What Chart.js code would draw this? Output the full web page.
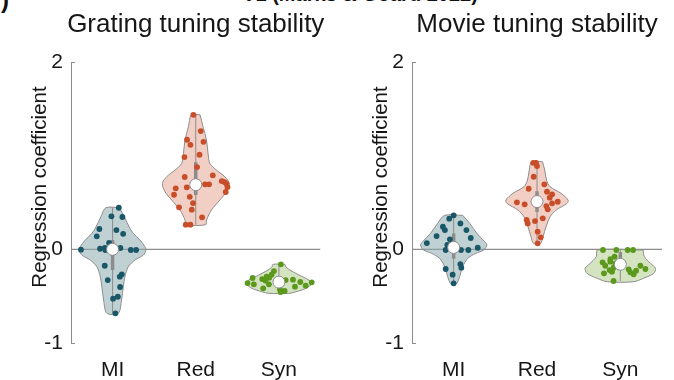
<!DOCTYPE html>
<html>
<head>
<meta charset="utf-8">
<script src="https://cdn.jsdelivr.net/npm/chart.js@4.4.0/dist/chart.umd.min.js"></script>
<style>
html,body{margin:0;padding:0;background:#fff;width:674px;height:380px;overflow:hidden;}
#wrap{position:relative;width:674px;height:380px;font-family:"Liberation Sans",Arial,Helvetica,sans-serif;}
.panel{position:absolute;top:0;width:337px;height:380px;}
#p1{left:0;} #p2{left:337px;}
#figTitle{position:absolute;left:0;top:-17px;width:720px;text-align:center;font-weight:bold;font-size:20px;line-height:23px;color:#111;white-space:nowrap;}
#panelTag{position:absolute;left:1px;top:-14px;font-weight:bold;font-size:24px;color:#111;}
</style>
</head>
<body>
<div id="wrap">
  <div id="figTitle">V1 (Marks &amp; Goard 2022)</div>
  <div id="panelTag">)</div>
  <div class="panel" id="p1"><canvas id="c1" width="337" height="380"></canvas></div>
  <div class="panel" id="p2"><canvas id="c2" width="337" height="380"></canvas></div>
</div>
<script>
// ---------------- DATA ----------------
const categories = ['MI', 'Red', 'Syn'];
const yTickValues = [-1, 0, 2];
const panelTitles = ['Grating tuning stability', 'Movie tuning stability'];
const yAxisTitle = 'Regression coefficient';

// Grating tuning stability: per-neuron regression coefficients and horizontal jitter
const gratMI = [0.444, 0.352, 0.345, 0.217, 0.139, 0.206, 0.166, 0.070, -0.004, 0.006, 0.014, -0.007, 0.014, -0.007, -0.007, -0.175, -0.267, -0.292, -0.328, -0.402, -0.506, -0.527, -0.683];
const gratMIJitter = [0.075, -0.014, 0.118, -0.159, -0.190, 0.046, 0.127, -0.042, -0.380, -0.151, -0.094, -0.087, 0.094, 0.219, 0.283, -0.094, 0.111, 0.087, -0.058, 0.090, 0.063, 0.006, 0.034];
const gratRed = [1.436, 1.263, 1.170, 1.148, 1.116, 1.010, 0.985, 0.878, 0.790, 0.772, 0.729, 0.718, 0.700, 0.694, 0.694, 0.665, 0.651, 0.662, 0.612, 0.583, 0.561, 0.494, 0.448, 0.423, 0.342, 0.263, 0.263];
const gratRedJitter = [-0.028, 0.060, -0.105, 0.093, -0.064, 0.045, -0.136, 0.016, 0.205, -0.133, 0.313, 0.346, 0.370, 0.112, 0.160, 0.382, -0.241, -0.108, 0.361, -0.261, -0.072, -0.033, -0.201, -0.048, 0.076, -0.120, -0.064];
const gratSyn = [-0.160, -0.232, -0.271, -0.292, -0.303, -0.306, -0.317, -0.360, -0.374, -0.374, -0.416, -0.328, -0.324, -0.349, -0.352, -0.388, -0.399, -0.427, -0.445, -0.456, -0.335];
const gratSynJitter = [0.024, -0.060, -0.088, -0.148, -0.117, -0.317, -0.201, -0.377, -0.301, -0.120, -0.189, 0.081, 0.169, 0.257, 0.394, 0.322, 0.193, 0.012, 0.069, 0.020, -0.160];

// Grating violin outlines (kernel density half-widths)
const gratMIViolinY = [0.444, 0.348, 0.224, 0.171, 0.099, 0.028, -0.007, -0.061, -0.114, -0.186, -0.292, -0.399, -0.541, -0.683];
const gratMIViolinW = [0.081, 0.141, 0.208, 0.249, 0.329, 0.389, 0.401, 0.370, 0.269, 0.189, 0.148, 0.129, 0.108, 0.069];
const gratRedViolinY = [1.436, 1.308, 1.166, 1.025, 0.918, 0.846, 0.775, 0.704, 0.615, 0.526, 0.419, 0.313, 0.263];
const gratRedViolinW = [0.052, 0.088, 0.129, 0.148, 0.169, 0.249, 0.349, 0.401, 0.370, 0.289, 0.189, 0.129, 0.120];
const gratSynViolinY = [-0.160, -0.189, -0.228, -0.274, -0.328, -0.363, -0.416, -0.453, -0.470];
const gratSynViolinW = [0.072, 0.084, 0.145, 0.241, 0.361, 0.398, 0.325, 0.205, 0.120];

const gratMedian = [0.0, 0.69, -0.35];
const gratQ1 = [-0.22, 0.58, -0.40];
const gratQ3 = [0.10, 0.93, -0.30];

// Movie tuning stability
const movMI = [0.363, 0.327, 0.277, 0.241, 0.206, 0.206, 0.142, 0.121, 0.107, 0.067, 0.046, -0.007, -0.007, -0.007, 0.017, -0.157, -0.196, -0.210, -0.271, -0.363];
const movMIJitter = [0.000, -0.053, 0.081, -0.129, -0.105, 0.153, -0.205, 0.205, -0.045, -0.322, -0.076, -0.096, 0.088, 0.176, 0.289, 0.080, 0.092, -0.096, -0.012, 0.000];
const movRed = [0.924, 0.924, 0.889, 0.775, 0.694, 0.647, 0.615, 0.587, 0.551, 0.502, 0.480, 0.508, 0.491, 0.462, 0.427, 0.331, 0.313, 0.302, 0.277, 0.188, 0.128, 0.064];
const movRedJitter = [-0.045, -0.012, 0.000, -0.040, 0.088, -0.100, 0.120, 0.181, 0.153, -0.241, -0.148, 0.249, 0.181, 0.112, 0.129, 0.069, -0.124, -0.024, -0.112, 0.008, 0.045, 0.008];
const movSyn = [-0.007, -0.007, -0.007, -0.007, -0.079, -0.104, -0.139, -0.132, -0.149, -0.175, -0.196, -0.221, -0.256, -0.239, -0.213, -0.175, -0.210, -0.228, -0.267, -0.245, -0.338];
const movSynJitter = [-0.208, -0.048, 0.088, 0.153, -0.069, -0.120, -0.213, -0.120, -0.060, -0.181, -0.081, -0.129, -0.196, -0.100, 0.100, 0.241, 0.301, 0.189, 0.160, 0.120, -0.081];

const movMIViolinY = [0.363, 0.277, 0.171, 0.081, 0.046, -0.007, -0.043, -0.096, -0.186, -0.292, -0.363];
const movMIViolinW = [0.108, 0.193, 0.277, 0.373, 0.398, 0.361, 0.265, 0.169, 0.108, 0.072, 0.036];
const movRedViolinY = [0.935, 0.846, 0.740, 0.668, 0.598, 0.526, 0.491, 0.419, 0.348, 0.241, 0.134, 0.064];
const movRedViolinW = [0.066, 0.093, 0.114, 0.157, 0.289, 0.373, 0.361, 0.229, 0.157, 0.108, 0.072, 0.042];
const movSynViolinY = [-0.007, -0.079, -0.149, -0.203, -0.256, -0.310, -0.346];
const movSynViolinW = [0.273, 0.289, 0.361, 0.422, 0.401, 0.277, 0.157];

const movMedian = [0.02, 0.51, -0.16];
const movQ1 = [-0.10, 0.40, -0.22];
const movQ3 = [0.17, 0.62, -0.03];

// ---------------- STYLE ----------------
const pointColors = ['rgb(24,86,104)', 'rgb(200,78,42)', 'rgb(92,152,28)'];
const violinFills = ['rgba(138,172,174,0.55)', 'rgba(230,160,140,0.5)', 'rgba(176,206,140,0.55)'];
const greyLine = '#8c8c8c';
const textColor = '#161616';
const fontFamily = '"Liberation Sans", Arial, Helvetica, sans-serif';

function buildDatasets(groups, medians, q1, q3) {
  const ds = [];
  ds.push({
    data: [{x: 0.5, y: 0}, {x: 3.5, y: 0}], showLine: true, borderColor: greyLine,
    borderWidth: 1.3, pointRadius: 0, fill: false, order: 20
  });
  groups.forEach((g, i) => {
    const c = i + 1;
    const outline = [];
    g.vy.forEach((y, k) => outline.push({x: c + g.vw[k], y}));
    for (let k = g.vy.length - 1; k >= 0; k--) outline.push({x: c - g.vw[k], y: g.vy[k]});
    outline.push({x: c + g.vw[0], y: g.vy[0]});
    ds.push({
      data: outline, showLine: true, fill: 'shape', backgroundColor: violinFills[i],
      borderColor: greyLine, borderWidth: 1, pointRadius: 0, tension: 0.3, order: 15
    });
    const lo = Math.min(...g.vals), hi = Math.max(...g.vals);
    ds.push({
      data: [{x: c, y: lo}, {x: c, y: hi}], showLine: true, borderColor: greyLine,
      borderWidth: 1, pointRadius: 0, fill: false, order: 12
    });
    ds.push({
      data: [{x: c, y: q1[i]}, {x: c, y: q3[i]}], showLine: true, borderColor: greyLine,
      borderWidth: 3.5, pointRadius: 0, fill: false, order: 11
    });
    ds.push({
      data: g.vals.map((v, k) => ({x: c + g.jit[k], y: v})), showLine: false,
      pointRadius: 2.9, pointBackgroundColor: pointColors[i], pointBorderWidth: 0, order: 5
    });
    ds.push({
      data: [{x: c, y: medians[i]}], showLine: false, pointRadius: 6,
      pointBackgroundColor: '#ffffff', pointBorderColor: greyLine, pointBorderWidth: 1, order: 1
    });
  });
  return ds;
}

function makeChart(canvasId, groups, medians, q1, q3, title, axisWidth, padRight) {
  const decor = {
    id: 'decor',
    afterDraw(chart) {
      const ctx = chart.ctx;
      const a = chart.chartArea;
      const ys = chart.scales.y;
      ctx.save();
      ctx.strokeStyle = greyLine;
      ctx.lineWidth = 1;
      yTickValues.forEach(v => {
        const p = Math.round(ys.getPixelForValue(v)) + 0.5;
        ctx.beginPath(); ctx.moveTo(a.left, p); ctx.lineTo(a.left + 4, p); ctx.stroke();
      });
      ctx.fillStyle = textColor;
      ctx.font = `26px ${fontFamily}`;
      ctx.textAlign = 'center';
      ctx.textBaseline = 'alphabetic';
      ctx.fillText(title, (a.left + a.right) / 2, 32);
      ctx.translate(a.left - 31, 187);
      ctx.rotate(-Math.PI / 2);
      ctx.font = `20.5px ${fontFamily}`;
      ctx.textBaseline = 'middle';
      ctx.fillText(yAxisTitle, 0, 0);
      ctx.restore();
    }
  };
  return new Chart(document.getElementById(canvasId), {
    type: 'scatter',
    data: {datasets: buildDatasets(groups, medians, q1, q3)},
    options: {
      responsive: false, animation: false, devicePixelRatio: 1,
      layout: {padding: {left: 0, right: padRight, top: 62, bottom: 0}},
      plugins: {legend: {display: false}, tooltip: {enabled: false}, title: {display: false}},
      scales: {
        x: {
          type: 'linear', min: 0.5, max: 3.5,
          afterBuildTicks: s => { s.ticks = categories.map((_, i) => ({value: i + 1})); },
          afterFit: s => { s.height = 37; },
          grid: {display: false, drawTicks: false, tickLength: 0},
          border: {display: false},
          ticks: {
            callback: v => categories[Math.round(v) - 1] || '',
            font: {family: fontFamily, size: 21}, color: textColor, padding: 15,
            maxRotation: 0, autoSkip: false
          }
        },
        y: {
          type: 'linear', min: -1, max: 2,
          afterBuildTicks: s => { s.ticks = yTickValues.map(v => ({value: v})); },
          afterFit: s => { s.width = axisWidth; },
          grid: {display: false, drawTicks: false, tickLength: 0},
          border: {display: true, color: greyLine, width: 1},
          ticks: {
            callback: v => String(v), font: {family: fontFamily, size: 21},
            color: textColor, padding: 8, autoSkip: false
          }
        }
      }
    },
    plugins: [decor]
  });
}

makeChart('c1', [
  {vals: gratMI, jit: gratMIJitter, vy: gratMIViolinY, vw: gratMIViolinW},
  {vals: gratRed, jit: gratRedJitter, vy: gratRedViolinY, vw: gratRedViolinW},
  {vals: gratSyn, jit: gratSynJitter, vy: gratSynViolinY, vw: gratSynViolinW}
], gratMedian, gratQ1, gratQ3, panelTitles[0], 71, 16.5);

makeChart('c2', [
  {vals: movMI, jit: movMIJitter, vy: movMIViolinY, vw: movMIViolinW},
  {vals: movRed, jit: movRedJitter, vy: movRedViolinY, vw: movRedViolinW},
  {vals: movSyn, jit: movSynJitter, vy: movSynViolinY, vw: movSynViolinW}
], movMedian, movQ1, movQ3, panelTitles[1], 75, 12);
</script>
</body>
</html>
